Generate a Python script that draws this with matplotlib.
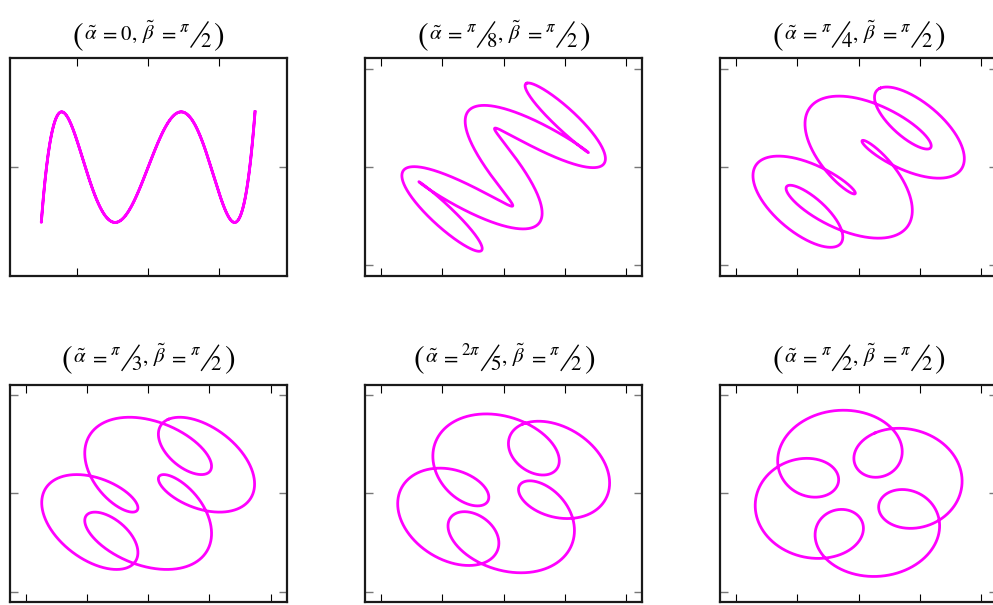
import numpy as np
import matplotlib.pyplot as plt
from matplotlib.lines import Line2D
from matplotlib.transforms import IdentityTransform

plt.rcParams['mathtext.fontset'] = 'stix'
plt.rcParams['font.family'] = 'STIXGeneral'

# phase parameter of each panel and its label (numerator / denominator)
alpha_vals = [0, np.pi / 8, np.pi / 4, np.pi / 3, 2 * np.pi / 5, np.pi / 2]
alpha_num = ['0', r'$\pi$', r'$\pi$', r'$\pi$', r'$2\pi$', r'$\pi$']
alpha_den = [None, '8', '4', '3', '5', '2']

# amplitudes of the fundamental and of the 5th harmonic
fund_amp = 0.75
harm_amp = 0.48

t = np.linspace(0, 2 * np.pi, 4000)

W, H = 993, 605
fig = plt.figure(figsize=(W / 100, H / 100), dpi=100)
renderer = fig.canvas.get_renderer()

col_left = [9.5, 365, 720]
row_top = [58.3, 384.5]
ax_w, ax_h = 277.3, 217.7
title_base = [40, 363.3]
FS = 15


def curve(a):
    f = fund_amp / np.sqrt(2)
    h = harm_amp / np.sqrt(2)
    x = f * np.cos(t - a / 2) - h * np.cos(5 * t + a / 2)
    y = f * np.cos(t + a / 2) + h * np.cos(5 * t - a / 2)
    if a == 0:
        # linear case: show it along the polarisation axes
        x, y = (x + y) / np.sqrt(2), (y - x) / np.sqrt(2)
    return x, y


def put(s, x, ytop, size):
    txt = fig.text(x, H - ytop, s, transform=IdentityTransform(), fontsize=size,
                   ha='left', va='baseline')
    return txt, txt.get_window_extent(renderer).width


def fraction(items, x, base, num, den):
    txt, w = put(num, x, base - 8, FS * 0.8)
    items.append(txt)
    x += w + 1
    ln = Line2D([x, x + 17], [H - base - 7, H - base + 18],
                transform=IdentityTransform(), color='black', lw=1.0)
    fig.add_artist(ln)
    items.append(ln)
    txt, w = put(den, x + 9, base + 7, FS)
    items.append(txt)
    return x + 9 + w


def title(cx, base, num, den):
    items = []
    x = 0
    txt, w = put('(', x, base + 4, 23)
    items.append(txt)
    x += w + 1
    for sym, gap in ((r'$\tilde{\alpha}$', 2), (r'$=$', 3)):
        txt, w = put(sym, x, base, FS)
        items.append(txt)
        x += w + gap
    if den is None:
        txt, w = put(num, x, base, FS)
        items.append(txt)
        x += w
    else:
        x = fraction(items, x, base, num, den)
    txt, w = put(',', x + 1, base, FS)
    items.append(txt)
    x += w + 6
    for sym, gap in ((r'$\tilde{\beta}$', 2), (r'$=$', 3)):
        txt, w = put(sym, x, base, FS)
        items.append(txt)
        x += w + gap
    x = fraction(items, x, base, r'$\pi$', '2')
    txt, w = put(')', x + 3, base + 4, 23)
    items.append(txt)
    x += w + 3
    shift = cx - x / 2
    for it in items:
        if isinstance(it, Line2D):
            it.set_xdata(np.asarray(it.get_xdata()) + shift)
        else:
            px, py = it.get_position()
            it.set_position((px + shift, py))


for i, a in enumerate(alpha_vals):
    r, c = divmod(i, 3)
    left, top = col_left[c], row_top[r]
    ax = fig.add_axes([left / W, 1 - (top + ax_h) / H, ax_w / W, ax_h / H])
    x, y = curve(a)
    ax.plot(x, y, color='#ff00ff', lw=2.0)
    if a == 0:
        ax.set_xlim(-0.973, 0.973)
        ax.set_ylim(-0.945, 0.945)
        ax.set_xticks([-0.5, 0, 0.5])
        ax.set_yticks([0])
    else:
        ax.set_xlim(-1.133, 1.133)
        ax.set_ylim(-1.107, 1.107)
        ax.set_xticks([-1, -0.5, 0, 0.5, 1])
        ax.set_yticks([-1, 0, 1])
    ax.tick_params(axis='x', direction='in', top=True, bottom=True, length=6,
                   width=0.8, color='black', labelbottom=False)
    ax.tick_params(axis='y', direction='in', left=True, right=True, length=6,
                   width=1.0, color='#777777', labelleft=False)
    for sp in ax.spines.values():
        sp.set_linewidth(1.6)
        sp.set_color('#1a1a1a')
    title(left + ax_w / 2, title_base[r], alpha_num[i], alpha_den[i])

fig.savefig('out.png', dpi=100)
